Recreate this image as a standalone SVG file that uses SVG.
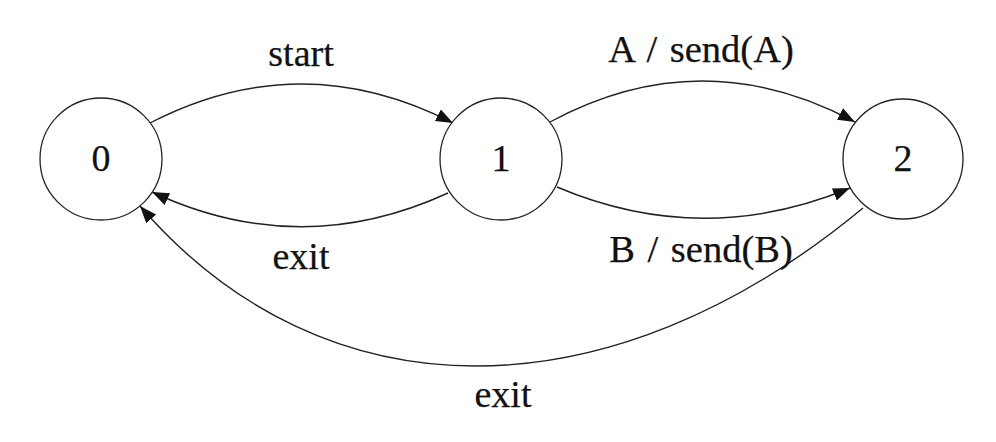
<svg xmlns="http://www.w3.org/2000/svg" width="996" height="442" viewBox="0 0 996 442">
<style>
.node{fill:#fff;stroke:#222;stroke-width:1.3}
.edge{fill:none;stroke:#222;stroke-width:1.4}
text{font-family:"Liberation Serif","Times New Roman",serif;font-size:38px;fill:#111;stroke:#111;stroke-width:0.25;text-anchor:middle}
.sp{word-spacing:3px;font-size:38.5px}
</style>
<defs>
<marker id="arr" markerUnits="userSpaceOnUse" markerWidth="17" markerHeight="13" refX="17" refY="6.5" orient="auto" viewBox="0 0 17 13">
<path d="M0,0 L17,6.5 L0,13 z" fill="#111"/>
</marker>
</defs>
<rect width="996" height="442" fill="#fff"/>
<g id="connectors">
<path class="edge" d="M150,123 Q301,45 453,123" marker-end="url(#arr)"/>
<path class="edge" d="M448,193 Q300,261 152,192" marker-end="url(#arr)"/>
<path class="edge" d="M550,122 Q702,40 855,122" marker-end="url(#arr)"/>
<path class="edge" d="M557,187 Q703,249 850,188" marker-end="url(#arr)"/>
<path class="edge" d="M863,208 C610,418 325,420 140,206" marker-end="url(#arr)"/>
<text x="301" y="66">start</text>
<text x="301" y="269">exit</text>
<text class="sp" x="701" y="62">A / send(A)</text>
<text class="sp" x="701" y="262">B / send(B)</text>
<text x="503" y="407">exit</text>
</g>
<g id="node0"><circle class="node" cx="101" cy="159" r="61"/><text x="101" y="171">0</text></g>
<g id="node1"><circle class="node" cx="501" cy="159" r="61"/><text x="501" y="171">1</text></g>
<g id="node2"><circle class="node" cx="903" cy="159" r="60"/><text x="903" y="171">2</text></g>
</svg>
